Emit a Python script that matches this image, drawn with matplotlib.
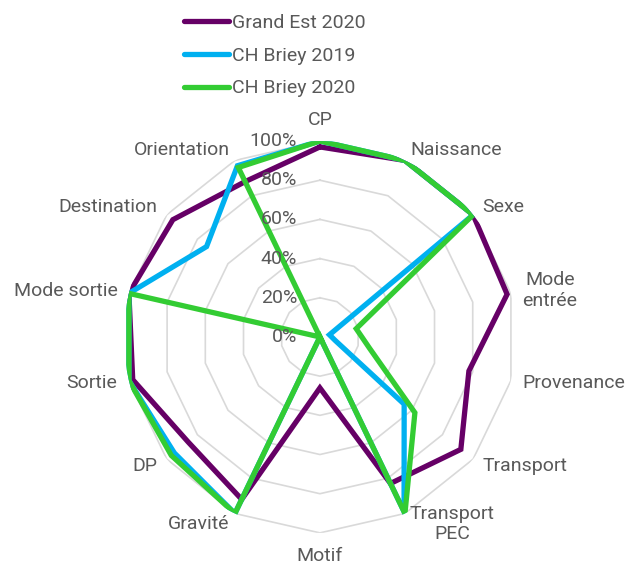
import numpy as np
import matplotlib.pyplot as plt
from matplotlib.transforms import offset_copy

categories = ['CP', 'Naissance', 'Sexe', 'Mode\nentrée', 'Provenance', 'Transport',
              'Transport\nPEC', 'Motif', 'Gravité', 'DP', 'Sortie', 'Mode sortie',
              'Destination', 'Orientation']

grand_est_2020 = [0.97, 1.00, 1.00, 0.98, 0.78, 0.92, 0.83, 0.26, 0.92, 0.86, 0.98, 1.00, 0.96, 0.88]
briey_2019 = [1.00, 1.00, 1.00, 0.05, 0.08, 0.55, 0.99, 0.00, 1.00, 0.95, 1.00, 1.00, 0.74, 0.97]
briey_2020 = [1.00, 1.00, 1.00, 0.19, 0.26, 0.62, 1.00, 0.00, 1.00, 0.97, 1.00, 1.00, 0.00, 0.96]

series = [('Grand Est 2020', grand_est_2020, '#660066'),
          ('CH Briey 2019', briey_2019, '#00b0f0'),
          ('CH Briey 2020', briey_2020, '#33cc33')]

ticks = [0.0, 0.2, 0.4, 0.6, 0.8, 1.0]

font = ['Roboto', 'DejaVu Sans']
txt_color = '#595959'
fsize = 14

fig = plt.figure(figsize=(6.31, 5.65), dpi=100)
ax = fig.add_axes([0.1965, 0.0566, 0.621, 0.694], projection='polar')
ax.set_theta_zero_location('N')
ax.set_theta_direction(-1)
ax.set_ylim(0, 1)
ax.grid(False)
ax.set_xticks([])
ax.set_yticks([])
ax.spines['polar'].set_visible(False)
ax.patch.set_alpha(0)

n = len(categories)
angles = np.linspace(0, 2 * np.pi, n, endpoint=False)
closed = np.append(angles, angles[0])

# polygon grid
for r in ticks[1:]:
    ax.plot(closed, [r] * (n + 1), color='#d9d9d9', lw=1.2, zorder=1)

# series
for name, vals, col in series:
    v = list(vals) + [vals[0]]
    ax.plot(closed, v, color=col, lw=3.8, label=name, zorder=3,
            solid_joinstyle='miter', solid_capstyle='round')

# percentage labels to the left of the vertical axis
trans = offset_copy(ax.transData, fig=fig, x=-16.5, y=0, units='points')
for r in ticks:
    ax.text(0, r, '{:d}%'.format(int(round(r * 100))), transform=trans,
            ha='right', va='center', fontsize=fsize, color=txt_color,
            family=font, zorder=4)

# category labels
for a, lab in zip(angles, categories):
    s = np.sin(a)
    c = np.cos(a)
    if s > 0.1:
        ha = 'left'
    elif s < -0.1:
        ha = 'right'
    else:
        ha = 'center'
    if c > 0.95:
        va = 'bottom'
    elif c < -0.95:
        va = 'top'
    else:
        va = 'center'
    rr = 1.07 if c < -0.95 else 1.06
    ax.text(a, rr, lab, ha=ha, va=va, fontsize=fsize, color=txt_color,
            family=font, multialignment='center')

leg = fig.legend(loc='upper left', bbox_to_anchor=(0.276, 0.992), frameon=False,
                 handlelength=2.3, handletextpad=0.15, labelspacing=0.75,
                 borderpad=0, prop={'family': font, 'size': fsize})
for t in leg.get_texts():
    t.set_color(txt_color)

fig.savefig('out.png', dpi=100)
